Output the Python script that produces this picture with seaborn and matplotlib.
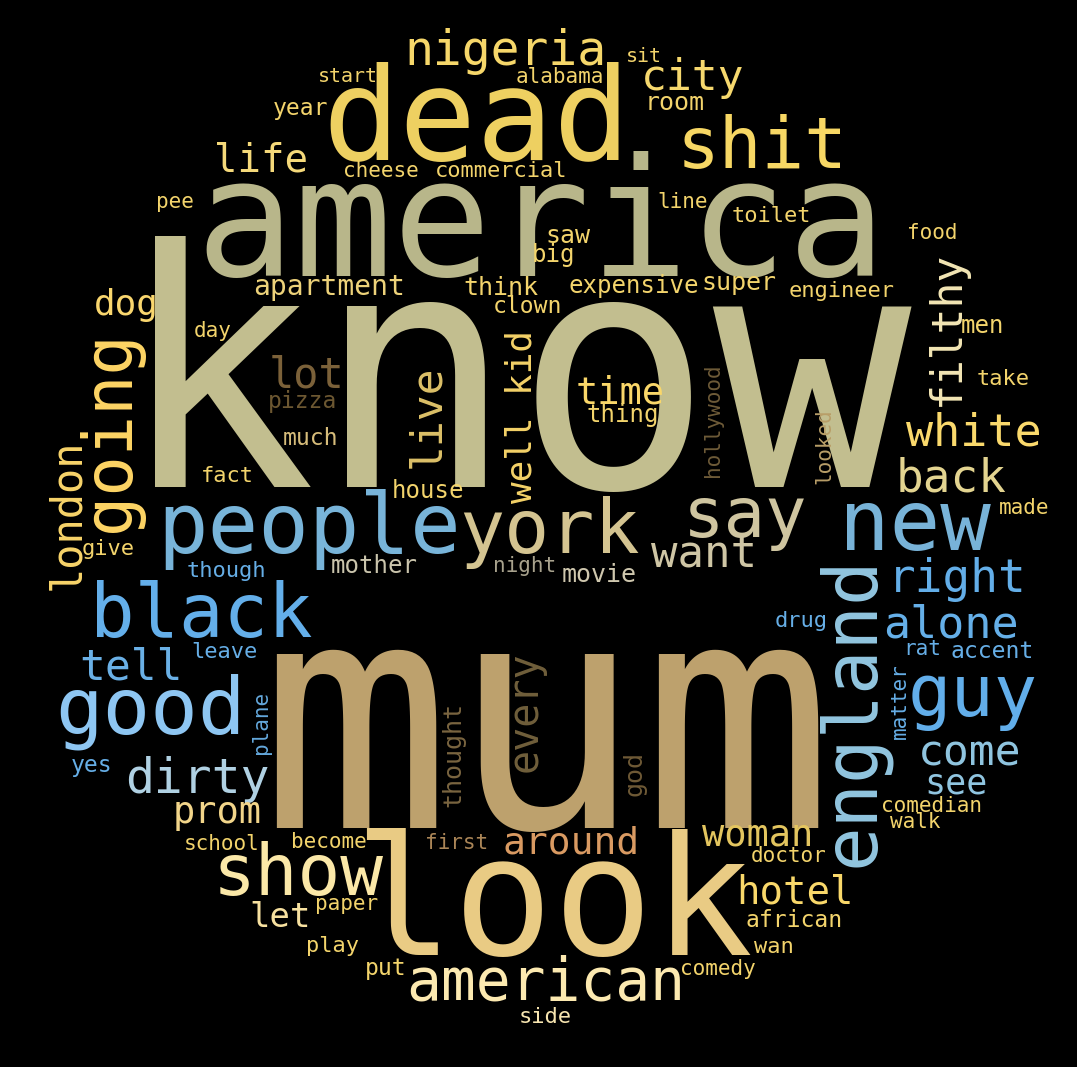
import matplotlib
matplotlib.use("Agg")
import matplotlib.pyplot as plt
from matplotlib.font_manager import FontProperties
from matplotlib.textpath import TextPath
import seaborn as sns

# word weights (bigger word = more mentions)
words = [
    "know", "mum", "america", "look", "dead", "people", "new", "good", "york",
    "black", "shit", "show", "say", "guy", "england", "going", "american",
    "nigeria", "dirty", "white", "back", "right", "alone", "want", "city",
    "come", "tell", "filthy", "live", "london", "lot", "every", "hotel", "life",
    "around", "time", "woman", "prom", "dog", "well kid", "see", "let",
    "apartment", "think", "super", "room", "movie", "saw", "thought", "god",
    "expensive", "house", "mother", "thing", "big", "much", "clown", "year",
    "pizza", "put", "yes", "african", "accent", "men", "commercial",
    "engineer", "toilet", "drug", "fact", "give", "though", "leave", "side",
    "wan", "play", "take", "start", "alabama", "sit", "cheese", "pee", "line",
    "food", "day", "made", "rat", "comedian", "walk", "doctor", "comedy",
    "paper", "school", "become", "first", "night", "hollywood", "looked",
    "matter", "plane",
]
weights = [
    330, 318, 164, 166, 128, 84, 84, 79, 75,
    74, 71, 71, 69, 72, 74, 67, 58,
    48, 48, 45, 46, 46, 45, 44, 43,
    43, 43, 43, 43, 42, 42, 40, 39, 39,
    38, 37, 37, 37, 36, 36, 35, 34,
    28, 25, 25, 25, 25, 25, 25, 25,
    24, 24, 24, 24, 24, 23, 23, 23,
    23, 23, 23, 23, 23, 24, 22,
    22, 22, 22, 22, 22, 22, 22, 22,
    22, 22, 22, 20, 21, 20, 21, 21, 21,
    21, 21, 21, 21, 21, 21, 21, 21,
    21, 21, 21, 21, 21, 21, 21,
    21, 21,
]

# placement in canvas pixels: (x, y, vertical)
# horizontal: x = left ink edge, y = baseline; vertical: x = baseline, y = bottom ink edge
layout = {
    "know": (155, 487, 0), "mum": (276, 828, 0), "america": (206, 276, 0),
    "look": (366, 955, 0), "dead": (330, 160, 0), "people": (165, 553, 0),
    "new": (847, 550, 0), "good": (60, 733, 0), "york": (463, 553, 0),
    "black": (97, 637, 0), "shit": (684, 168, 0), "show": (220, 895, 0),
    "say": (690, 537, 0), "guy": (912, 716, 0), "england": (873, 863, 1),
    "going": (129, 528, 1), "american": (410, 1000, 0), "nigeria": (409, 65, 0),
    "dirty": (128, 793, 0), "white": (906, 445, 0), "back": (900, 492, 0),
    "right": (896, 592, 0), "alone": (886, 637, 0), "want": (651, 568, 0),
    "city": (645, 90, 0), "come": (922, 766, 0), "tell": (82, 679, 0),
    "filthy": (959, 402, 1), "live": (439, 465, 1), "london": (79, 587, 1),
    "lot": (272, 387, 0), "every": (537, 770, 1), "hotel": (740, 903, 0),
    "life": (217, 172, 0), "around": (505, 853, 0), "time": (578, 403, 0),
    "woman": (702, 845, 0), "prom": (176, 823, 0), "dog": (96, 315, 0),
    "well kid": (532, 503, 1), "see": (928, 793, 0), "let": (252, 927, 0),
    "apartment": (255, 295, 0), "think": (465, 295, 0), "super": (704, 290, 0),
    "room": (649, 110, 0), "movie": (563, 582, 0), "saw": (548, 243, 0),
    "thought": (460, 805, 1), "god": (642, 795, 1), "expensive": (570, 293, 0),
    "house": (394, 498, 0), "mother": (332, 573, 0), "thing": (588, 422, 0),
    "big": (534, 262, 0), "much": (284, 445, 0), "clown": (495, 313, 0),
    "year": (274, 115, 0), "pizza": (270, 408, 0), "put": (367, 975, 0),
    "yes": (72, 772, 0), "african": (747, 927, 0), "accent": (952, 658, 0),
    "men": (962, 333, 0), "commercial": (437, 177, 0), "engineer": (790, 297, 0),
    "toilet": (733, 222, 0), "drug": (776, 627, 0), "fact": (203, 482, 0),
    "give": (83, 555, 0), "though": (188, 577, 0), "leave": (193, 658, 0),
    "side": (521, 1023, 0), "wan": (754, 953, 0), "play": (308, 952, 0),
    "take": (978, 385, 0), "start": (320, 82, 0), "alabama": (517, 83, 0),
    "sit": (628, 62, 0), "cheese": (345, 177, 0), "pee": (158, 208, 0),
    "line": (659, 208, 0), "food": (909, 239, 0), "day": (195, 337, 0),
    "made": (1000, 514, 0), "rat": (907, 655, 0), "comedian": (883, 812, 0),
    "walk": (890, 828, 0), "doctor": (752, 862, 0), "comedy": (682, 975, 0),
    "paper": (317, 910, 0), "school": (186, 850, 0), "become": (293, 848, 0),
    "first": (427, 849, 0), "night": (495, 572, 0), "hollywood": (719, 475, 1),
    "looked": (830, 482, 1), "matter": (906, 738, 1), "plane": (267, 752, 1),
}

gold = "#F3D46C"
blue = "#66AEE6"
colours = {
    "know": "#C2BE8F", "mum": "#BDA16D", "america": "#B8B68A", "look": "#E9CB84",
    "dead": "#EED061", "people": "#78B4D9", "new": "#78B3D8", "good": "#8EC6F2",
    "york": "#D4C491", "black": "#64AFEA", "shit": "#F7D764", "show": "#FBE8A8",
    "say": "#CFC5A0", "guy": "#62AEEA", "england": "#92C6E0", "going": "#FED565",
    "american": "#FCE9B0", "nigeria": "#F6D76A", "dirty": "#B0D1E3",
    "white": "#FAD96C", "back": "#E3D490", "right": "#63AEE8", "alone": "#65AFE8",
    "want": "#CFC6A5", "city": "#F6D86E", "come": "#8FC4DF", "tell": "#6AB0E6",
    "filthy": "#F3E6B5", "live": "#DCC068", "london": "#F8D46A", "lot": "#7B6139",
    "every": "#705F3B", "hotel": "#F9D86A", "life": "#F5D97A", "around": "#D99A62",
    "time": "#FAD769", "woman": "#E3C55F", "prom": "#F2D58A", "dog": "#F9D66E",
    "well kid": "#F4D268", "see": "#90C5E0", "let": "#F7E1A0",
    "apartment": "#EDD27A", "movie": "#CFC7AE", "thought": "#7A6540",
    "god": "#6F5A36", "mother": "#CAC4AC", "much": "#D6BC7A", "pizza": "#6C5731",
    "yes": blue, "accent": blue, "drug": blue, "though": blue, "leave": blue,
    "rat": blue, "matter": blue, "plane": "#64A8DC", "side": "#F7E5B0",
    "first": "#AA8557", "night": "#A8A28D", "hollywood": "#6E5B38",
    "looked": "#B89E68",
}

sns.set_style("dark", {"axes.facecolor": "black", "figure.facecolor": "black"})
plt.rcParams["font.family"] = ["DejaVu Sans Mono"]
fp = FontProperties(family="DejaVu Sans Mono")

W, H = 1077, 1067
fig = plt.figure(figsize=(W / 100, H / 100), dpi=100, facecolor="black")
ax = fig.add_axes([0, 0, 1, 1])
ax.set_xlim(0, W)
ax.set_ylim(H, 0)
ax.set_axis_off()

px_to_pt = 72 / 100
for word, w in zip(words, weights):
    x, y, vert = layout[word]
    # matplotlib keeps the first glyph's left bearing; take it off so the ink
    # starts where the word starts in the reference
    bearing = TextPath((0, 0), word, size=w, prop=fp).get_extents().x0
    if vert:
        y = y + bearing
    else:
        x = x - bearing
    ax.text(x, y, word, fontsize=w * px_to_pt, color=colours.get(word, gold),
            ha="left", va="baseline", rotation=90 if vert else 0,
            rotation_mode="anchor")

fig.savefig("out.png", dpi=100, facecolor="black")
